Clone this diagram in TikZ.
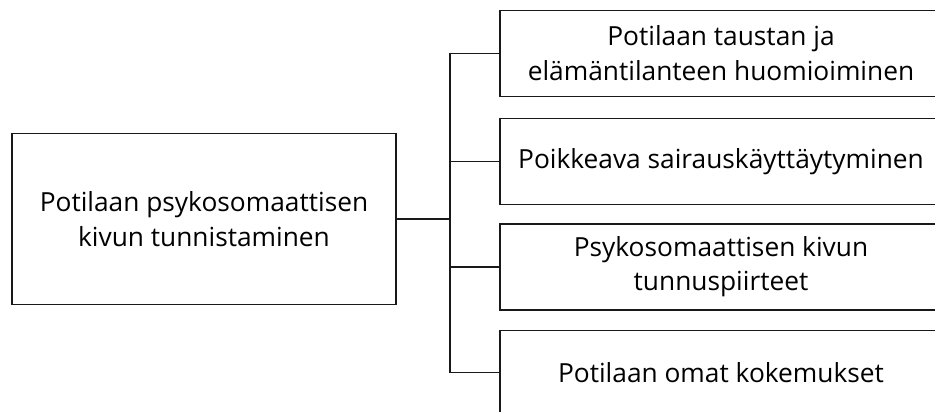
\documentclass[tikz,border=0pt]{standalone}
\usepackage{fontspec}
\setmainfont{Open Sans}

\begin{document}
\begin{tikzpicture}[x=1pt, y=-1pt, line width=1.4pt,
  box/.style={draw=black!90, align=center, inner sep=0pt,
    font=\fontsize{26.3}{34.5}\selectfont, text=black},
  link/.style={draw=black!90}]
  \clip (0,0) rectangle (935,412);
  \coordinate (J) at (450,219);
  \coordinate (T1) at (450,53.3);
  \coordinate (T2) at (450,161.3);
  \coordinate (T3) at (450,266.8);
  \coordinate (T4) at (450,372.5);
  \node[box, minimum width=384pt, minimum height=171pt] (root) at (204,219)
    {Potilaan psykosomaattisen\\kivun tunnistaminen};
  \node[box, minimum width=442pt, minimum height=86pt] (b1) at (721,53.3)
    {Potilaan taustan ja\\elämäntilanteen huomioiminen};
  \node[box, minimum width=442pt, minimum height=86pt] (b2) at (721,161.3)
    {Poikkeava sairauskäyttäytyminen};
  \node[box, minimum width=442pt, minimum height=86pt] (b3) at (721,266.8)
    {Psykosomaattisen kivun\\tunnuspiirteet};
  \node[box, minimum width=442pt, minimum height=84pt] (b4) at (721,372.5)
    {Potilaan omat kokemukset};
  % haarat
  \draw[link] (root.east) -- (J);
  \draw[link] (T1) -- (T4);
  \foreach \i in {1,...,4}
    \draw[link] (T\i) -- (b\i.west);
\end{tikzpicture}
\end{document}
